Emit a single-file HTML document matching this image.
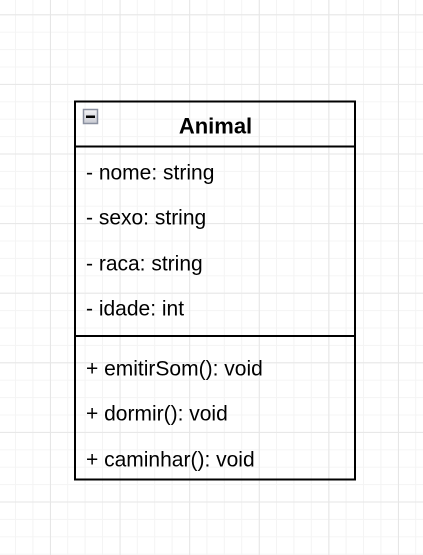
<!DOCTYPE html>
<html><head><style>
html,body{margin:0;padding:0;background:#fff;}
svg{display:block;}
text{font-family:"Liberation Sans",Arial,sans-serif;font-size:21px;fill:#000;}
</style></head><body>
<svg width="423" height="555" viewBox="0 0 423 555" xmlns="http://www.w3.org/2000/svg">
<defs>
<pattern id="g" x="-2.4" y="-3.1" width="17.4" height="17.4" patternUnits="userSpaceOnUse">
<path d="M0.5 0V17.4M0 0.5H17.4" stroke="#f4f4f4" stroke-width="1" fill="none"/>
</pattern>
<pattern id="G" x="50" y="14.3" width="69.6" height="69.6" patternUnits="userSpaceOnUse">
<path d="M0.5 0V69.6M0 0.5H69.6" stroke="#e6e6e6" stroke-width="1" fill="none"/>
</pattern>
<linearGradient id="ig" x1="0" y1="0" x2="0" y2="1"><stop offset="0" stop-color="#f4f4f6"/><stop offset="1" stop-color="#c8cad2"/></linearGradient>
</defs>
<rect width="423" height="555" fill="url(#g)"/>
<rect width="423" height="555" fill="url(#G)"/>
<rect x="75" y="101.5" width="280" height="378" fill="none" stroke="#000" stroke-width="2"/>
<line x1="75" y1="146.5" x2="355" y2="146.5" stroke="#000" stroke-width="2"/>
<line x1="75" y1="336" x2="355" y2="336" stroke="#000" stroke-width="2"/>
<rect x="83.5" y="109.5" width="14" height="14" fill="url(#ig)" stroke="#8a90a0" stroke-width="1.5"/>
<rect x="86" y="115.5" width="9" height="2.5" fill="#000"/>
<text x="215.5" y="133.5" text-anchor="middle" font-weight="bold" style="font-size:22px">Animal</text>
<text x="86" y="179.5">- nome: string</text>
<text x="86" y="224.5">- sexo: string</text>
<text x="86" y="270.5">- raca: string</text>
<text x="86" y="315.5">- idade: int</text>
<text x="86" y="375.5">+ emitirSom(): void</text>
<text x="86" y="420.5">+ dormir(): void</text>
<text x="86" y="466.5">+ caminhar(): void</text>
</svg>
</body></html>
